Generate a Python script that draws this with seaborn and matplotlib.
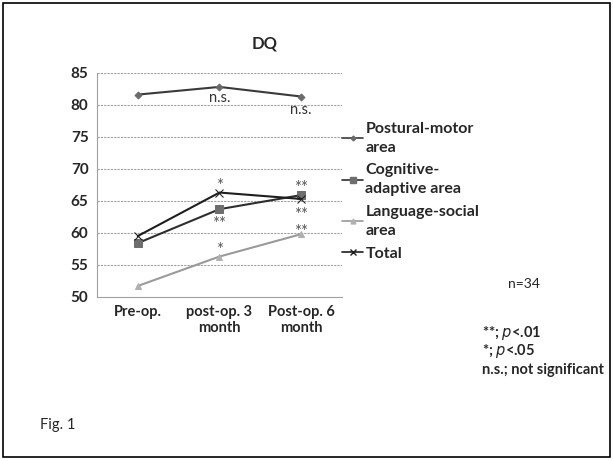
import matplotlib
matplotlib.use("Agg")
import matplotlib.pyplot as plt
import seaborn as sns
import pandas as pd
from matplotlib.patches import Rectangle
from matplotlib.lines import Line2D

timepoints = ["Pre-op.", "post-op. 3\nmonth", "Post-op. 6\nmonth"]
postural = [81.6, 82.8, 81.3]
cognitive = [58.4, 63.7, 65.9]
language = [51.7, 56.3, 59.8]
total = [59.5, 66.3, 65.3]
series_names = ["Postural-motor\narea", "Cognitive-\nadaptive area", "Language-social\narea", "Total"]
y_ticks = [50, 55, 60, 65, 70, 75, 80, 85]

sns.set_theme(style="white")
plt.rcParams['font.family'] = ['Lato', 'DejaVu Sans']

fig = plt.figure(figsize=(6.13, 4.61), dpi=100)
ax = fig.add_axes([0.158, 0.356, 0.400, 0.486])

line_colors = ["#3a3a3a", "#2e2e2e", "#9a9a9a", "#1e1e1e"]
marker_colors = ["#6a6a6a", "#6e6e6e", "#b0b0b0", "#1e1e1e"]
markers = ["D", "s", "^", "x"]
msizes = [3.5, 5.5, 5, 6]

for name, vals, lc, mc, mk, ms in zip(series_names, [postural, cognitive, language, total],
                                       line_colors, marker_colors, markers, msizes):
    d = pd.DataFrame({"time": list(range(len(vals))), "DQ": vals})
    sns.lineplot(data=d, x="time", y="DQ", ax=ax, color=lc, lw=1.5, marker=mk,
                 markersize=ms, markerfacecolor=mc, markeredgecolor=mc)

ax.set_xlim(-0.5, 2.5)
ax.set_ylim(50, 85)
ax.set_yticks(y_ticks)
ax.set_yticklabels([str(t) for t in y_ticks], fontweight="bold", fontsize=11)
ax.set_xticks(range(len(timepoints)))
ax.set_xticklabels(timepoints, fontweight="bold", fontsize=10.5)
ax.set_xlabel("")
ax.set_ylabel("")
ax.tick_params(axis="both", length=0, pad=6)
for t in y_ticks[1:]:
    ax.axhline(t, color="#a0a0a0", lw=0.8, ls=(0, (2, 1)), zorder=0)
for s in ["top", "right"]:
    ax.spines[s].set_visible(False)
for s in ["left", "bottom"]:
    ax.spines[s].set_color("#a0a0a0")
    ax.spines[s].set_linewidth(0.8)

ann_kw = dict(ha="center", fontsize=12, color="#555555")
ax.text(1, postural[1] - 0.6, "n.s.", va="top", fontsize=10.5, ha="center", color="#333333")
ax.text(2, postural[2] - 1.0, "n.s.", va="top", fontsize=10.5, ha="center", color="#333333")
ax.text(1, total[1] - 0.2, "*", va="bottom", **ann_kw)
ax.text(1, cognitive[1] - 3.5, "**", va="bottom", **ann_kw)
ax.text(2, cognitive[2] - 0.1, "**", va="bottom", **ann_kw)
ax.text(2, total[2] - 3.7, "**", va="bottom", **ann_kw)
ax.text(1, language[1] - 0.3, "*", va="bottom", **ann_kw)
ax.text(2, language[2] - 0.85, "**", va="bottom", **ann_kw)

handles = [Line2D([0], [0], color=lc, marker=mk, markersize=ms * 0.7,
                  markerfacecolor=mc, markeredgecolor=mc, lw=1.2)
           for lc, mc, mk, ms in zip(line_colors, marker_colors, markers, msizes)]
leg = fig.legend(handles, series_names, loc="upper left", bbox_to_anchor=(0.548, 0.75),
                 frameon=False, handlelength=1.3, handletextpad=0.15, labelspacing=0.55,
                 borderaxespad=0, prop={"weight": "bold", "size": 11.5})
for t in leg.get_texts():
    t.set_linespacing(1.45)

fig.text(0.432, 0.905, "DQ", ha="center", va="center", fontsize=12, fontweight="bold")
fig.text(0.855, 0.385, "n=34", ha="center", va="center", fontsize=10)
fig.text(0.787, 0.278, "**; $\\mathit{p}$<.01", ha="left", va="center", fontsize=10.5, fontweight="bold")
fig.text(0.787, 0.238, "*; $\\mathit{p}$<.05", ha="left", va="center", fontsize=10.5, fontweight="bold")
fig.text(0.787, 0.198, "n.s.; not significant", ha="left", va="center", fontsize=10.5, fontweight="bold")
fig.text(0.065, 0.078, "Fig. 1", ha="left", va="center", fontsize=10.5)

fig.patches.append(Rectangle((0.005, 0.008), 0.99, 0.985, transform=fig.transFigure,
                             fill=False, edgecolor="black", lw=1.2))

fig.savefig("out.png", dpi=100)
